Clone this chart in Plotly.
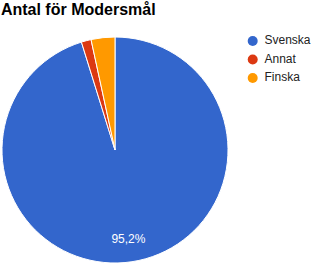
import plotly.graph_objects as go

categories = ["Svenska", "Annat", "Finska"]
values = [95.2, 1.4, 3.4]
colors = ["#3366cc", "#dc3912", "#ff9900"]
labels_text = ["95,2%", "", ""]
legend_rows = [0, 1, 2]

W, H = 311, 264
FONT = "Liberation Sans, Arial"
pie_domain = dict(x=[2 / W, 228 / W], y=[1 / H, 227 / H])

fig = go.Figure()
fig.add_trace(go.Pie(
    labels=categories, values=values, sort=False, direction="clockwise",
    rotation=0, marker=dict(colors=colors, line=dict(color="white", width=1)),
    textinfo="none", showlegend=False, hoverinfo="label+percent",
    domain=pie_domain,
))
# transparent donut carrying the slice label in the outer ring
fig.add_trace(go.Pie(
    labels=categories, values=values, sort=False, direction="clockwise",
    rotation=0, hole=0.6,
    marker=dict(colors=["rgba(0,0,0,0)"] * 3, line=dict(width=0)),
    text=labels_text, texttemplate="%{text}", textposition="inside",
    insidetextorientation="horizontal",
    textfont=dict(family=FONT, size=12, color="white"),
    showlegend=False, hoverinfo="skip",
    domain=pie_domain,
))
# legend drawn as scatter on its own axes
fig.add_trace(go.Scatter(
    x=[0] * len(categories), y=legend_rows, mode="markers",
    marker=dict(symbol="circle", size=10, color=colors, line=dict(width=0)),
    xaxis="x2", yaxis="y2", showlegend=False, hoverinfo="skip", cliponaxis=False,
))
fig.add_trace(go.Scatter(
    x=[1] * len(categories), y=legend_rows, mode="text",
    text=categories, textposition="middle right",
    textfont=dict(family=FONT, size=12, color="#222222"),
    xaxis="x2", yaxis="y2", showlegend=False, hoverinfo="skip", cliponaxis=False,
))

lx0, lx1 = -1.076, 4.94
fig.update_layout(
    width=W, height=H, margin=dict(l=0, r=0, t=0, b=0, autoexpand=False),
    paper_bgcolor="white", plot_bgcolor="white",
    title=dict(text="<b>Antal för Modersmål</b>", x=0.003, xanchor="left",
               y=1 - 4 / H, yanchor="top", yref="container",
               font=dict(family=FONT, size=16, color="black")),
    xaxis2=dict(visible=False, domain=[240 / W, 1], range=[lx0, lx1]),
    yaxis2=dict(visible=False, domain=[(H - 87.25) / H, (H - 31.75) / H],
                range=[2.5, -0.5]),
    showlegend=False,
)
fig.write_html("out.html")
